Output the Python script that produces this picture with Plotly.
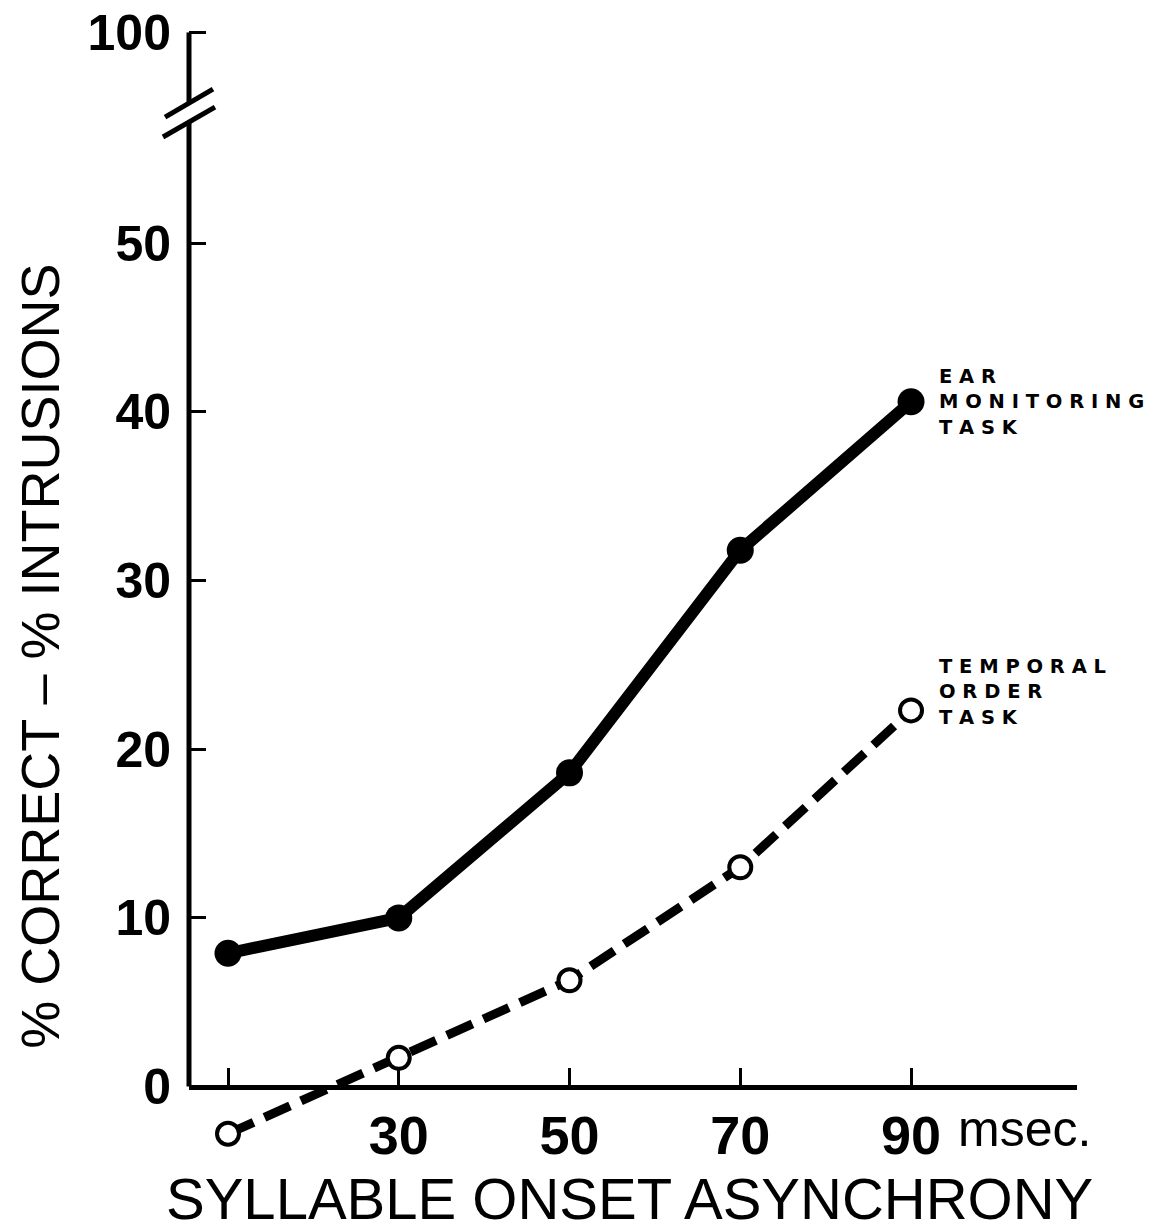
import plotly.graph_objects as go

# ---- data ----
asynchrony_ms = [10, 30, 50, 70, 90]
ear_monitoring = [7.9, 10.0, 18.6, 31.8, 40.6]
temporal_order = [-2.8, 1.7, 6.3, 13.0, 22.3]

x_tick_vals = [10, 30, 50, 70, 90]
x_tick_text = ["", "30", "50", "70", "90"]
y_tick_vals = [0, 10, 20, 30, 40, 50, 62.5]   # 62.5 = position of the broken "100" tick
y_tick_text = ["0", "10", "20", "30", "40", "50", "100"]

X_RANGE = [5.432, 109.44]
Y_RANGE = [-4, 63]
BREAK_LOW, BREAK_HIGH = 57.2, 58.3

fig = go.Figure()

fig.add_trace(go.Scatter(
    x=asynchrony_ms, y=temporal_order, mode="lines+markers",
    line=dict(color="black", width=9, dash="28px,12px"),
    marker=dict(symbol="circle", size=22, color="white",
                line=dict(color="black", width=4)),
    cliponaxis=False, showlegend=False))

fig.add_trace(go.Scatter(
    x=asynchrony_ms, y=ear_monitoring, mode="lines+markers",
    line=dict(color="black", width=12),
    marker=dict(symbol="circle", size=27, color="black"),
    cliponaxis=False, showlegend=False))

# y-axis line with break (decoration)
shapes = [
    dict(type="line", xref="x domain", yref="y", x0=0, x1=0, y0=0, y1=BREAK_LOW,
         line=dict(color="black", width=5), layer="below"),
    dict(type="line", xref="x domain", yref="y", x0=0, x1=0, y0=BREAK_HIGH, y1=62.5,
         line=dict(color="black", width=5), layer="below"),
    dict(type="line", xref="x domain", yref="y", x0=-0.027, x1=0.027, y0=57.48, y1=59.14,
         line=dict(color="black", width=5)),
    dict(type="line", xref="x domain", yref="y", x0=-0.0293, x1=0.0293, y0=56.3, y1=58.07,
         line=dict(color="black", width=5)),
]

label_font = dict(family="DejaVu Sans", size=19.5, color="black", weight="bold")
annotations = [
    dict(text="E A R<br>M O N I T O R I N G<br>T A S K",
         x=asynchrony_ms[-1], y=ear_monitoring[-1], xref="x", yref="y",
         xanchor="left", yanchor="middle", xshift=26, yshift=0, align="left",
         showarrow=False, font=label_font),
    dict(text="T E M P O R A L<br>O R D E R<br>T A S K",
         x=asynchrony_ms[-1], y=temporal_order[-1], xref="x", yref="y",
         xanchor="left", yanchor="middle", xshift=26, yshift=18, align="left",
         showarrow=False, font=label_font),
    dict(text="msec.", x=asynchrony_ms[-1], y=0, xref="x", yref="y",
         xanchor="left", yanchor="top", xshift=45, yshift=-12, showarrow=False,
         font=dict(family="Liberation Sans", size=50, color="black")),
    dict(text="SYLLABLE ONSET ASYNCHRONY", x=0.4955, y=-0.039, xref="paper", yref="paper",
         xanchor="center", yanchor="middle", showarrow=False,
         font=dict(family="Liberation Sans", size=58, color="black")),
    dict(text="% CORRECT – % INTRUSIONS", x=-0.1678, y=0.441, xref="paper", yref="paper",
         xanchor="center", yanchor="middle", textangle=-90, showarrow=False,
         font=dict(family="Liberation Sans", size=54, color="black")),
]

# page body adds an 8 px margin, so the figure is 8 px smaller and shifted
fig.update_layout(
    width=1158, height=1224,
    margin=dict(l=181, r=89, t=16, b=78, autoexpand=False),
    paper_bgcolor="white", plot_bgcolor="white",
    shapes=shapes, annotations=annotations,
    xaxis=dict(range=X_RANGE, anchor="free", automargin=False,
               position=(0 - Y_RANGE[0]) / (Y_RANGE[1] - Y_RANGE[0]),
               showline=True, linecolor="black", linewidth=5,
               ticks="inside", ticklen=17, tickwidth=3, tickcolor="black",
               tickvals=x_tick_vals, ticktext=x_tick_text,
               tickfont=dict(family="Liberation Sans", size=54, color="black", weight="bold"),
               showgrid=False, zeroline=False),
    yaxis=dict(range=Y_RANGE, showline=False, automargin=False,
               ticks="inside", ticklen=17, tickwidth=3, tickcolor="black",
               tickvals=y_tick_vals, ticktext=y_tick_text, ticklabelstandoff=17,
               ticklabeloverflow="allow",
               tickfont=dict(family="Liberation Sans", size=50, color="black", weight="bold"),
               showgrid=False, zeroline=False),
)

fig.write_html("out.html")
